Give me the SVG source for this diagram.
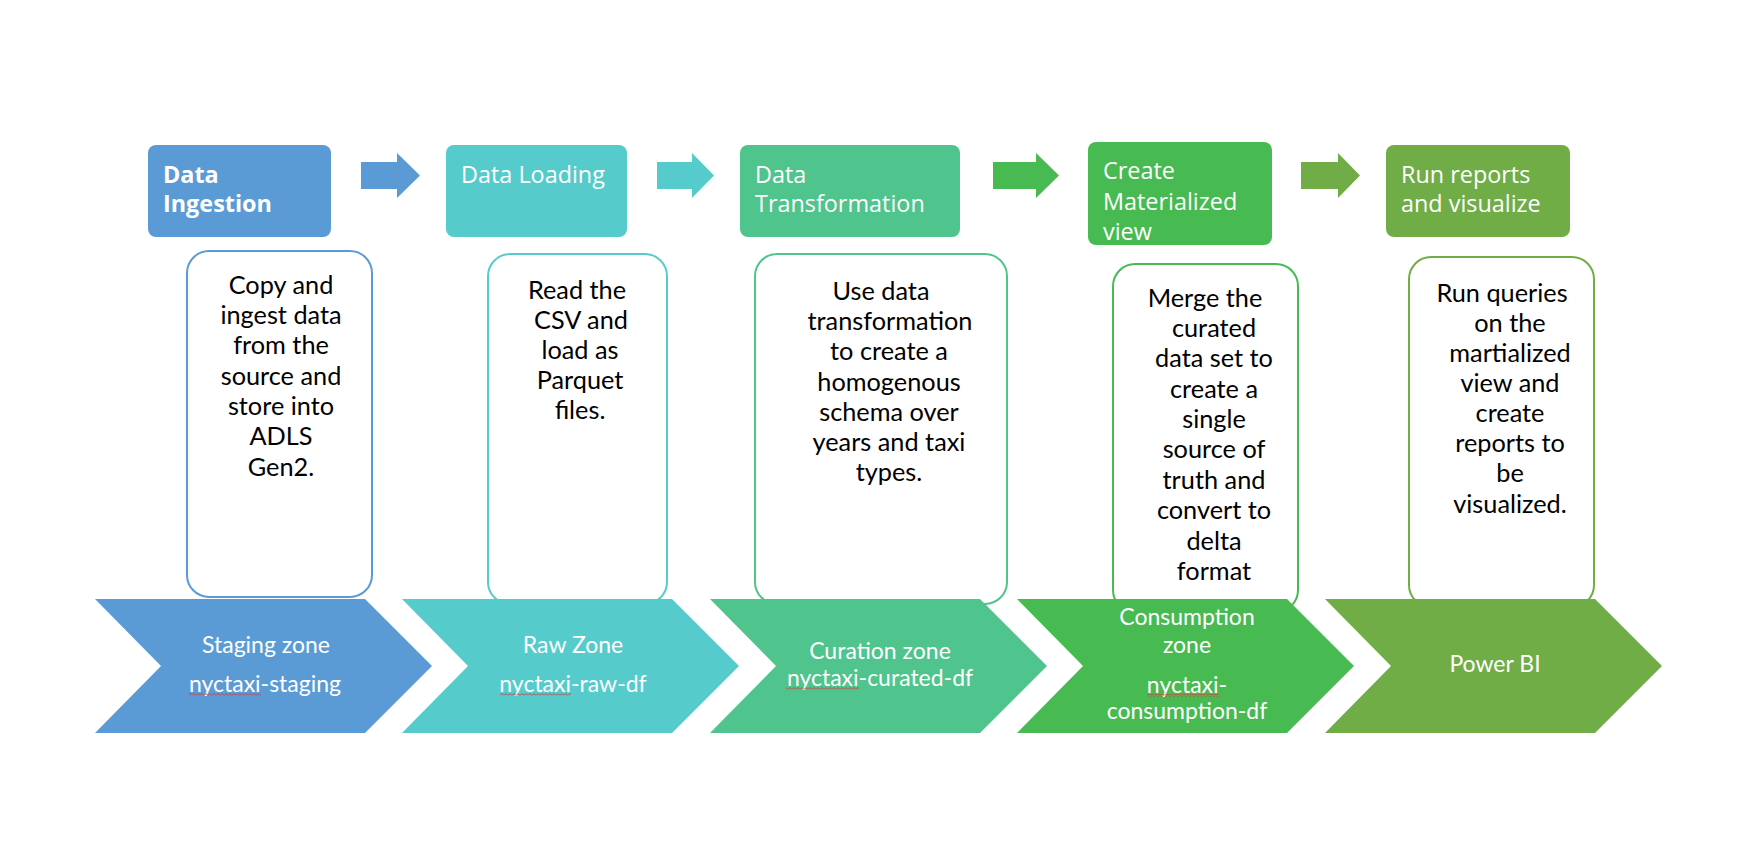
<svg xmlns="http://www.w3.org/2000/svg" width="1741" height="845" viewBox="0 0 1741 845">
<style>
.hdr{font-family:"Open Sans","Noto Sans",sans-serif;font-size:23.4px;fill:#fff}
.desc{font-family:Lato,"Liberation Sans",sans-serif;font-size:25.3px;fill:#000;text-anchor:middle}
.chv{font-family:Lato,"Liberation Sans",sans-serif;font-size:23px;fill:#fff;text-anchor:middle}
.dbox{fill:#fff;stroke-width:2}
</style>
<defs>
<pattern id="sq" width="4" height="3" patternUnits="userSpaceOnUse">
<path d="M0,2.5 L2,0.5 L4,2.5" fill="none" stroke="#e03030" stroke-width="0.9"/>
</pattern>
</defs>
<rect width="1741" height="845" fill="#fff"/>

<g id="connectors">
<path d="M361,162 H397 V153 L420,175.5 L397,198 V189 H361 Z" fill="#5B9BD5"/>
<path d="M657,162 H692 V153 L714,175.5 L692,198 V189 H657 Z" fill="#56CBCB"/>
<path d="M993,162 H1036 V153 L1059,175.5 L1036,198 V189 H993 Z" fill="#47BA52"/>
<path d="M1301,162 H1338 V153 L1360,175.5 L1338,198 V189 H1301 Z" fill="#70AD47"/>
</g>

<g id="step-ingestion">
<rect x="148" y="145" width="183" height="92" rx="8" fill="#5B9BD5"/>
<text class="hdr" x="163" y="183" font-weight="bold">Data</text>
<text class="hdr" x="163" y="212" font-weight="bold">Ingestion</text>
</g>
<g id="step-loading">
<rect x="446" y="145" width="181" height="92" rx="8" fill="#56CBCB"/>
<text class="hdr" x="461" y="183">Data Loading</text>
</g>
<g id="step-transformation">
<rect x="740" y="145" width="220" height="92" rx="8" fill="#4FC48C"/>
<text class="hdr" x="755" y="183">Data</text>
<text class="hdr" x="755" y="212">Transformation</text>
</g>
<g id="step-materialized">
<rect x="1088" y="142" width="184" height="103" rx="8" fill="#47BA52"/>
<text class="hdr" x="1103" y="179">Create</text>
<text class="hdr" x="1103" y="210">Materialized</text>
<text class="hdr" x="1103" y="240">view</text>
</g>
<g id="step-reports">
<rect x="1386" y="145" width="184" height="92" rx="8" fill="#70AD47"/>
<text class="hdr" x="1401" y="183">Run reports</text>
<text class="hdr" x="1401" y="212">and visualize</text>
</g>

<g id="desc-ingestion">
<rect class="dbox" x="187" y="251" width="185" height="346" rx="22" stroke="#5B9BD5"/>
<text class="desc" x="281" y="294">Copy and</text>
<text class="desc" x="281" y="324">ingest data</text>
<text class="desc" x="281" y="354">from the</text>
<text class="desc" x="281" y="385">source and</text>
<text class="desc" x="281" y="415">store into</text>
<text class="desc" x="281" y="445">ADLS</text>
<text class="desc" x="281" y="476">Gen2.</text>
</g>
<g id="desc-loading">
<rect class="dbox" x="488" y="254" width="179" height="350" rx="22" stroke="#56CBCB"/>
<text class="desc" x="577" y="299">Read the</text>
<text class="desc" x="581" y="329">CSV and</text>
<text class="desc" x="580" y="359">load as</text>
<text class="desc" x="580" y="389">Parquet</text>
<text class="desc" x="580" y="419">files.</text>
</g>
<g id="desc-transformation">
<rect class="dbox" x="755" y="254" width="252" height="350" rx="22" stroke="#4FC48C"/>
<text class="desc" x="881" y="300">Use data</text>
<text class="desc" x="890" y="330">transformation</text>
<text class="desc" x="889" y="360">to create a</text>
<text class="desc" x="889" y="391">homogenous</text>
<text class="desc" x="889" y="421">schema over</text>
<text class="desc" x="889" y="451">years and taxi</text>
<text class="desc" x="889" y="481">types.</text>
</g>
<g id="desc-materialized">
<rect class="dbox" x="1113" y="264" width="185" height="348" rx="22" stroke="#47BA52"/>
<text class="desc" x="1205" y="307">Merge the</text>
<text class="desc" x="1214" y="337">curated</text>
<text class="desc" x="1214" y="367">data set to</text>
<text class="desc" x="1214" y="398">create a</text>
<text class="desc" x="1214" y="428">single</text>
<text class="desc" x="1214" y="458">source of</text>
<text class="desc" x="1214" y="489">truth and</text>
<text class="desc" x="1214" y="519">convert to</text>
<text class="desc" x="1214" y="550">delta</text>
<text class="desc" x="1214" y="580">format</text>
</g>
<g id="desc-reports">
<rect class="dbox" x="1409" y="257" width="185" height="350" rx="22" stroke="#70AD47"/>
<text class="desc" x="1502" y="302">Run queries</text>
<text class="desc" x="1510" y="332">on the</text>
<text class="desc" x="1510" y="362">martialized</text>
<text class="desc" x="1510" y="392">view and</text>
<text class="desc" x="1510" y="422">create</text>
<text class="desc" x="1510" y="452">reports to</text>
<text class="desc" x="1510" y="482">be</text>
<text class="desc" x="1510" y="513">visualized.</text>
</g>

<g id="zone-staging">
<path d="M95,599 H365 L432,666 L365,733 H95 L161,666 Z" fill="#5B9BD5"/>
<text class="chv" x="266" y="653">Staging zone</text>
<text class="chv" x="265" y="692">nyctaxi-staging</text>
<rect x="189" y="693" width="72" height="3" fill="url(#sq)"/>
</g>
<g id="zone-raw">
<path d="M402,599 H672 L739,666 L672,733 H402 L468,666 Z" fill="#56CBCB"/>
<text class="chv" x="573" y="653">Raw Zone</text>
<text class="chv" x="573" y="692">nyctaxi-raw-df</text>
<rect x="500" y="693" width="71" height="3" fill="url(#sq)"/>
</g>
<g id="zone-curation">
<path d="M710,599 H980 L1047,666 L980,733 H710 L776,666 Z" fill="#4FC48C"/>
<text class="chv" x="880" y="659">Curation zone</text>
<text class="chv" x="880" y="686">nyctaxi-curated-df</text>
<rect x="786" y="687" width="73" height="3" fill="url(#sq)"/>
</g>
<g id="zone-consumption">
<path d="M1017,599 H1287 L1354,666 L1287,733 H1017 L1083,666 Z" fill="#47BA52"/>
<text class="chv" x="1187" y="625">Consumption</text>
<text class="chv" x="1187" y="653">zone</text>
<text class="chv" x="1187" y="693">nyctaxi-</text>
<text class="chv" x="1187" y="719">consumption-df</text>
<rect x="1147" y="694" width="72" height="3" fill="url(#sq)"/>
</g>
<g id="zone-powerbi">
<path d="M1325,599 H1595 L1662,666 L1595,733 H1325 L1391,666 Z" fill="#70AD47"/>
<text class="chv" x="1495" y="672">Power BI</text>
</g>
</svg>
